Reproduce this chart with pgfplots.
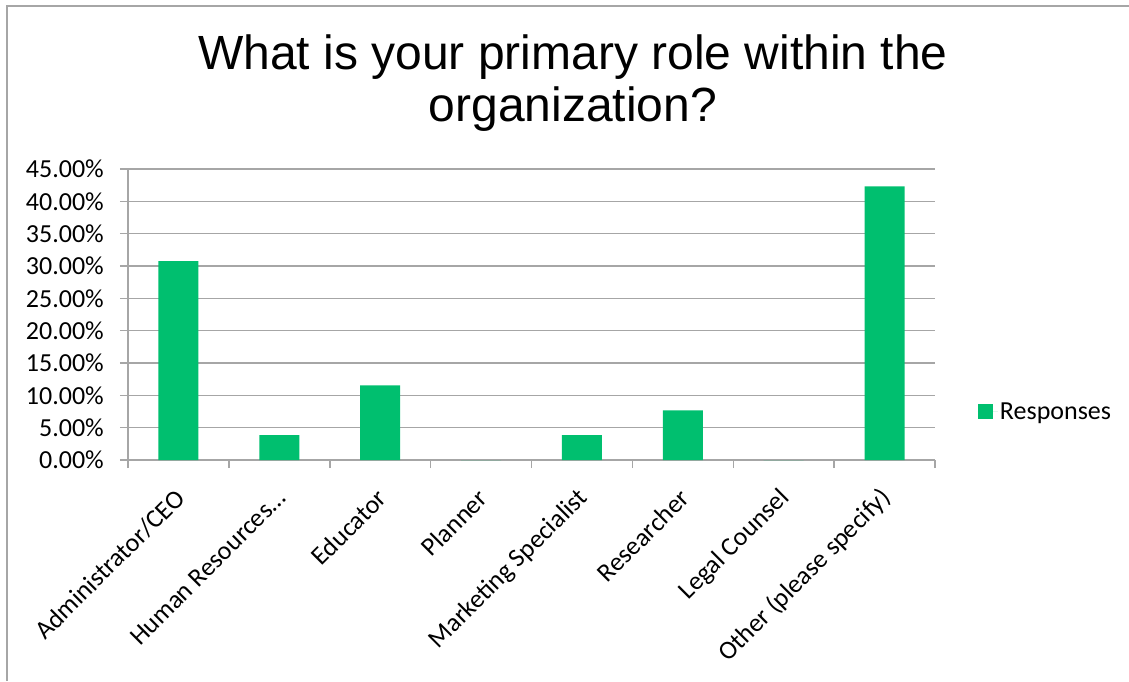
\documentclass[border=0pt]{standalone}
\usepackage{fontspec}
\setmainfont{Carlito}
\newfontfamily\titlefont{Liberation Sans}
\usepackage{pgfplots}
\pgfplotsset{compat=1.18}
\definecolor{barc}{RGB}{0,191,111}
\definecolor{gridc}{RGB}{166,166,166}
\begin{document}
\begin{tikzpicture}[x=1pt,y=1pt]
\useasboundingbox (0,0) rectangle (1129,681);
\draw[gridc, line width=1.5pt] (7,0) -- (7,675) -- (1129,675);
\node[font=\titlefont\fontsize{48}{52}\selectfont, anchor=base, inner sep=0pt] at (573,611) {What is your primary role within the};
\node[font=\titlefont\fontsize{48}{52}\selectfont, anchor=base, inner sep=0pt] at (573,559) {organization?};
\begin{axis}[
  at={(128pt,221pt)}, anchor=south west,
  scale only axis, width=807pt, height=291pt,
  xmin=-0.5, xmax=7.5, ymin=0, ymax=45,
  axis lines*=left,
  axis line style={gridc, line width=1.5pt},
  ytick={0,5,...,45},
  yticklabel={\pgfmathprintnumber[fixed,fixed zerofill,precision=2]{\tick}\%},
  /pgf/number format/assume math mode=true,
  ymajorgrids,
  major grid style={gridc, line width=1.2pt},
  xtick={0,...,7},
  xticklabels={Administrator/CEO, Human Resources\ldots, Educator, Planner, Marketing Specialist, Researcher, Legal Counsel, Other (please specify)},
  minor xtick={-0.5,0.5,...,7.5},
  tick align=outside,
  major tick length=8pt,
  minor tick length=8pt,
  major x tick style={draw=none},
  minor x tick style={gridc, line width=1.5pt},
  ytick style={gridc, line width=1.5pt},
  tick label style={font=\fontsize{26}{31}\selectfont, text=black},
  yticklabel style={anchor=east, inner sep=0pt, xshift=-16pt},
  xticklabel style={xshift=2pt, yshift=-26pt, rotate=45, anchor=east, inner sep=0pt},
  legend style={draw=none, at={(1.053,0.165)}, anchor=west, font=\fontsize{26}{31}\selectfont, inner sep=0pt},
  legend cell align=left,
  clip=false,
]
\addplot[ybar, bar width=40pt, fill=barc, draw=none,
  legend image code/.code={\fill[barc] (0pt,-7.5pt) rectangle (15pt,7.5pt); \path (0pt,0pt) -- (20pt,0pt);}]
  coordinates {(0,30.77) (1,3.85) (2,11.54) (3,0) (4,3.85) (5,7.69) (6,0) (7,42.31)};
\addlegendentry{Responses}
\end{axis}
\end{tikzpicture}
\end{document}
